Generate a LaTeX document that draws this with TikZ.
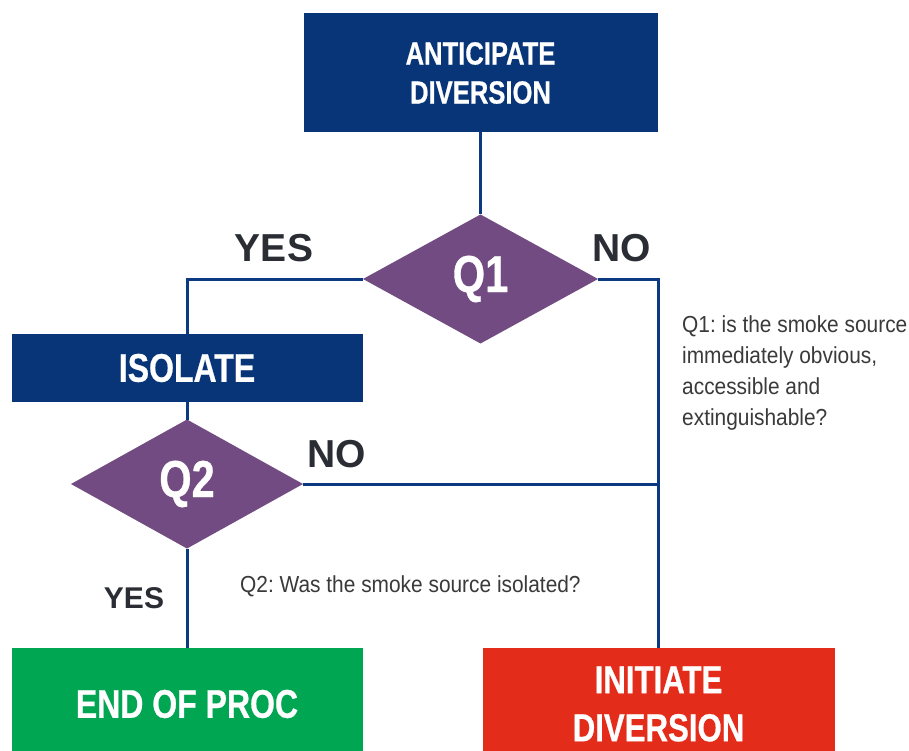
\documentclass[tikz,border=0pt]{standalone}
\usepackage{fontspec}
\setmainfont{Liberation Sans}
\newfontfamily\condfont[FakeStretch=0.8,FakeBold=0.6]{Liberation Sans}
\newfontfamily\notefont[FakeStretch=0.9]{Liberation Sans}
\usetikzlibrary{shapes.geometric}
\definecolor{navy}{HTML}{083478}
\definecolor{qpurple}{HTML}{714B82}
\definecolor{pgreen}{HTML}{00A651}
\definecolor{pred}{HTML}{E32C1A}
\definecolor{linec}{HTML}{0B3A82}
\definecolor{lblc}{HTML}{2A2D33}
\definecolor{notec}{HTML}{3A3A3A}
\tikzset{
  boxnode/.style={rectangle, draw=none, text=white, inner sep=0pt, outer sep=0pt, align=center},
  qnode/.style={diamond, fill=qpurple, text=white, inner sep=0pt, outer sep=0pt,
    font=\condfont\bfseries\fontsize{52}{60}\selectfont},
  conn/.style={draw=linec, line width=3pt},
  lbl/.style={text=lblc, inner sep=0pt, font=\bfseries\fontsize{39}{46}\selectfont},
  note/.style={text=notec, inner sep=0pt, align=left, font=\notefont\frenchspacing\fontsize{23.2}{31}\selectfont}
}
\begin{document}
\frenchspacing
\begin{tikzpicture}[x=1pt,y=-1pt]
\useasboundingbox (0,0) rectangle (909,751);
\fill[white] (0,0) rectangle (909,751);

\node[boxnode, fill=navy, minimum width=354pt, minimum height=119pt,
  font=\condfont\bfseries\fontsize{32}{39}\selectfont] (top) at (480.5,73) {ANTICIPATE\\DIVERSION};
\node[qnode, minimum width=235pt, minimum height=129pt] (q1) at (480.5,279) {Q1};
\node[boxnode, fill=navy, minimum width=351pt, minimum height=68pt,
  font=\condfont\bfseries\fontsize{40}{48}\selectfont] (iso) at (187,368) {ISOLATE};
\node[qnode, minimum width=232pt, minimum height=129pt] (q2) at (187,484) {Q2};
\node[boxnode, fill=pgreen, minimum width=351pt, minimum height=112pt,
  font=\condfont\bfseries\fontsize{40}{48}\selectfont] (endp) at (187,704) {END OF PROC};
\node[boxnode, fill=pred, minimum width=352pt, minimum height=112pt,
  font=\condfont\bfseries\fontsize{39}{48}\selectfont] (init) at (658.5,704) {INITIATE\\DIVERSION};

\draw[conn] (top.south) -- (q1.north);
\draw[conn] (q1.west) -| (iso.north);
\draw[conn] (q1.east) -| (init.north);
\draw[conn] (iso.south) -- (q2.north);
\draw[conn] (q2.east) -- (q2.east -| init.north);
\draw[conn] (q2.south) -- (endp.north);

\node[lbl] (yes1) at (274,248) {YES};
\node[lbl] (no1) at (622,248) {NO};
\node[lbl] (no2) at (337,454) {NO};
\node[lbl, font=\bfseries\fontsize{30}{36}\selectfont] (yes2) at (134,598) {YES};

\node[note, anchor=north west] (n1) at (682,315) {Q1: is the smoke source\\immediately obvious,\\accessible and\\extinguishable?};
\node[note, anchor=base west] (n2) at (240,592) {Q2: Was the smoke source isolated?};
\end{tikzpicture}
\end{document}
